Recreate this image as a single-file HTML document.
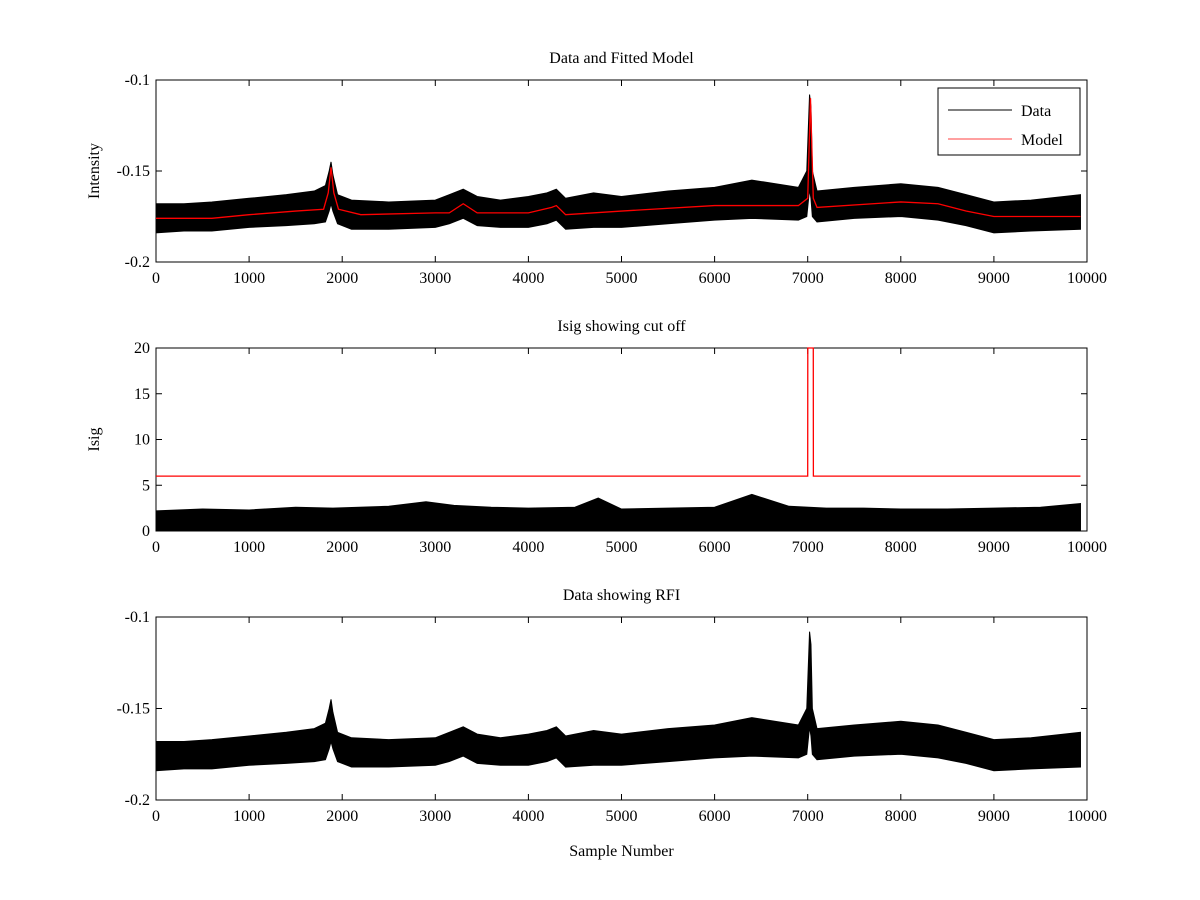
<!DOCTYPE html>
<html><head><meta charset="utf-8">
<style>
body{margin:0;background:#fff;}
svg{display:block;font-family:"Liberation Serif",serif;}
</style></head>
<body>
<svg id="c" width="1200" height="900" viewBox="0 0 1200 900"></svg>
<script>
// ---- data ----
const sampleX = [0,300,600,1000,1400,1700,1820,1860,1880,1900,1950,2100,2500,3000,3150,3300,3450,3700,4000,4200,4300,4400,4700,5000,5500,6000,6400,6900,6990,7020,7035,7050,7100,7500,8000,8400,8700,9000,9400,9930];
const dataUpper = [-0.168,-0.168,-0.167,-0.165,-0.163,-0.161,-0.158,-0.150,-0.145,-0.152,-0.163,-0.166,-0.167,-0.166,-0.163,-0.160,-0.164,-0.166,-0.164,-0.162,-0.160,-0.165,-0.162,-0.164,-0.161,-0.159,-0.155,-0.159,-0.150,-0.108,-0.115,-0.150,-0.161,-0.159,-0.157,-0.159,-0.163,-0.167,-0.166,-0.163];
const dataLower = [-0.184,-0.183,-0.183,-0.181,-0.180,-0.179,-0.178,-0.172,-0.168,-0.172,-0.179,-0.182,-0.182,-0.181,-0.179,-0.176,-0.180,-0.181,-0.181,-0.179,-0.177,-0.182,-0.181,-0.181,-0.179,-0.177,-0.176,-0.177,-0.175,-0.160,-0.165,-0.175,-0.178,-0.176,-0.175,-0.177,-0.180,-0.184,-0.183,-0.182];
const modelX = [0,600,1000,1500,1800,1850,1880,1910,1960,2200,3000,3150,3300,3450,3700,4000,4250,4300,4400,5000,6000,6900,7000,7030,7060,7100,8000,8400,8700,9000,9930];
const modelY = [-0.176,-0.176,-0.174,-0.172,-0.171,-0.162,-0.148,-0.162,-0.171,-0.174,-0.173,-0.173,-0.168,-0.173,-0.173,-0.173,-0.170,-0.169,-0.174,-0.172,-0.169,-0.169,-0.165,-0.110,-0.165,-0.170,-0.167,-0.168,-0.172,-0.175,-0.175];
const isigX = [0,500,1000,1500,1900,2500,2900,3200,3600,4000,4500,4750,5000,5500,6000,6400,6800,7200,7600,8000,8500,9000,9500,9930];
const isigUpper = [2.2,2.4,2.3,2.6,2.5,2.7,3.2,2.8,2.6,2.5,2.6,3.6,2.4,2.5,2.6,4.0,2.7,2.5,2.5,2.4,2.4,2.5,2.6,3.0];
const cutX = [0,7000,7001,7060,7061,9930];
const cutY = [6,6,20,20,6,6];
const xTicks = [0,1000,2000,3000,4000,5000,6000,7000,8000,9000,10000];
const intTicks = [-0.2,-0.15,-0.1];
const isigTicks = [0,5,10,15,20];

const svg=document.getElementById('c');
const NS='http://www.w3.org/2000/svg';
function mk(tag,attrs,parent){const e=document.createElementNS(NS,tag);for(const k in attrs)e.setAttribute(k,attrs[k]);(parent||svg).appendChild(e);return e;}
const L=156,R=1087;
function xs(v){return L+(v/10000)*(R-L);}

function panel(name,top,bot,ymin,ymax,yticks,ylabel,title){
  const g=mk('g',{});
  
  
  const ys=v=>bot-(v-ymin)/(ymax-ymin)*(bot-top);
  const ax=mk('rect',{x:L,y:top,width:R-L,height:bot-top,fill:'#fff',stroke:'#000','stroke-width':1},g);
  
  
  xTicks.forEach(t=>{
    const x=xs(t);
    mk('line',{x1:x,x2:x,y1:bot,y2:bot-6,stroke:'#000'},g);
    mk('line',{x1:x,x2:x,y1:top,y2:top+6,stroke:'#000'},g);
    const tx=mk('text',{x:x,y:bot+21,'text-anchor':'middle','font-size':16},g);
    tx.textContent=t;
    
    
  });
  yticks.forEach(t=>{
    const y=ys(t);
    mk('line',{x1:L,x2:L+6,y1:y,y2:y,stroke:'#000'},g);
    mk('line',{x1:R,x2:R-6,y1:y,y2:y,stroke:'#000'},g);
    const tx=mk('text',{x:L-6,y:y+5,'text-anchor':'end','font-size':16},g);
    tx.textContent=t;
    
    
  });
  const tt=mk('text',{x:(L+R)/2,y:top-17,'text-anchor':'middle','font-size':16},g);
  tt.textContent=title;
  
  
  if(ylabel){
    const yl=mk('text',{x:0,y:0,'text-anchor':'middle','font-size':16,transform:`translate(${L-57},${(top+bot)/2}) rotate(-90)`},g);
    yl.textContent=ylabel;
    
    
  }
  return {g,ys};
}

function band(g,xsArr,up,lo,ys){
  let pts=xsArr.map((x,i)=>xs(x)+','+ys(up[i]));
  for(let i=xsArr.length-1;i>=0;i--)pts.push(xs(xsArr[i])+','+ys(lo[i]));
  const p=mk('polygon',{points:pts.join(' '),fill:'#000',stroke:'#000','stroke-width':1},g);
  
  
}
function line(g,xsArr,yArr,ys,col,nm){
  const p=mk('polyline',{points:xsArr.map((x,i)=>xs(x)+','+ys(yArr[i])).join(' '),fill:'none',stroke:col,'stroke-width':1.3},g);
  
  
}

// Panel 1
const p1=panel('data-model-panel',80,262,-0.2,-0.1,intTicks,'Intensity','Data and Fitted Model');
band(p1.g,sampleX,dataUpper,dataLower,p1.ys);
line(p1.g,modelX,modelY,p1.ys,'#f00','model-line');
const lg=mk('g',{},p1.g);


mk('rect',{x:938,y:88,width:142,height:67,fill:'#fff',stroke:'#000'},lg);
mk('line',{x1:948,x2:1012,y1:110,y2:110,stroke:'#000'},lg);
mk('line',{x1:948,x2:1012,y1:139,y2:139,stroke:'#f00','stroke-width':0.7},lg);
const le1=mk('text',{x:1021,y:116,'font-size':16},lg);le1.textContent='Data';


const le2=mk('text',{x:1021,y:145,'font-size':16},lg);le2.textContent='Model';



// Panel 2
const p2=panel('isig-panel',348,531,0,20,isigTicks,'Isig','Isig showing cut off');
band(p2.g,isigX,isigUpper,isigX.map(()=>0),p2.ys);
line(p2.g,cutX,cutY,p2.ys,'#f00','cutoff-line');

// Panel 3
const p3=panel('rfi-panel',617,800,-0.2,-0.1,intTicks,'','Data showing RFI');
band(p3.g,sampleX,dataUpper,dataLower,p3.ys);
const xl=mk('text',{x:(L+R)/2,y:856,'text-anchor':'middle','font-size':16});
xl.textContent='Sample Number';


</script>
</body></html>
